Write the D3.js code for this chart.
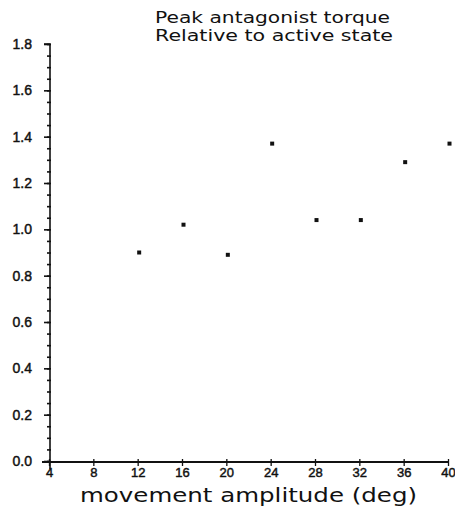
<!DOCTYPE html>
<html>
<head>
<meta charset="utf-8">
<script src="https://cdn.jsdelivr.net/npm/d3@7"></script>
<style>
  html, body { margin: 0; padding: 0; background: #fff; }
  svg { display: block; }
</style>
</head>
<body>
<script>
// Movement amplitude (deg) tested
const amplitudes = [12, 16, 20, 24, 28, 32, 36, 40];
// Peak antagonist torque relative to active state
const relTorque = [0.90, 1.02, 0.89, 1.37, 1.04, 1.04, 1.29, 1.37];
// Axis ticks
const xTicks = [4, 8, 12, 16, 20, 24, 28, 32, 36, 40];
const yTicks = [0.0, 0.2, 0.4, 0.6, 0.8, 1.0, 1.2, 1.4, 1.6, 1.8];
const yMinorTicks = d3.range(0, 1.8001, 0.05);
const titleLines = ["Peak antagonist torque", "Relative to active state"];
const xTitle = "movement amplitude (deg)";

const W = 455, H = 515;
const svg = d3.select("body").append("svg").attr("width", W).attr("height", H);

const x = d3.scaleLinear().domain([4, 40]).range([49, 448]);
const y = d3.scaleLinear().domain([0, 1.8]).range([461, 44]);
const axisX = 50;

const ink = "#111";
const labelFont = "Liberation Sans, Arial, sans-serif";
const titleFont = "DejaVu Sans, sans-serif";

// Y axis: minor ticks
svg.append("g")
  .attr("transform", `translate(${axisX},0)`)
  .call(d3.axisLeft(y).tickValues(yMinorTicks).tickSize(3).tickFormat(""))
  .call(g => g.select(".domain").remove())
  .call(g => g.selectAll("line").attr("stroke", ink).attr("stroke-width", 1.6).attr("x2", -3).attr("x1", 1));

// Y axis: major ticks with labels
svg.append("g")
  .attr("transform", `translate(${axisX},0)`)
  .call(d3.axisLeft(y).tickValues(yTicks).tickSize(6).tickPadding(12).tickFormat(d3.format(".1f")))
  .call(g => g.select(".domain").attr("d", `M-6,${y(1.8)}H0V${y(0) + 8}`).attr("stroke", ink).attr("stroke-width", 1.6).attr("fill", "none"))
  .call(g => g.selectAll(".tick line").attr("stroke", ink).attr("stroke-width", 1.6))
  .call(g => g.selectAll(".tick text")
    .attr("fill", ink).attr("stroke", ink).attr("stroke-width", 0.45)
    .style("font-family", labelFont).style("font-size", "14px"));

// X axis
svg.append("g")
  .attr("transform", `translate(0,${y(0) + 1})`)
  .call(d3.axisBottom(x).tickValues(xTicks).tickSize(4).tickPadding(2).tickFormat(d3.format("d")))
  .call(g => g.select(".domain").attr("d", `M${axisX - 8},0H${x(40)}`).attr("stroke", ink).attr("stroke-width", 1.8))
  .call(g => g.selectAll(".tick line").attr("y1", -3).attr("stroke", ink).attr("stroke-width", 1.3))
  .call(g => g.selectAll(".tick text")
    .attr("fill", ink).attr("stroke", ink).attr("stroke-width", 0.45)
    .style("font-family", labelFont).style("font-size", "13px"));

// Data points: small filled squares
const s = 4;
svg.append("g").selectAll("rect")
  .data(amplitudes.map((a, i) => ({ a, v: relTorque[i] })))
  .join("rect")
  .attr("x", d => x(d.a) - s / 2 + 1.5)
  .attr("y", d => y(d.v) - s / 2)
  .attr("width", s).attr("height", s)
  .attr("fill", ink);

// Title
svg.append("g").selectAll("text")
  .data(titleLines)
  .join("text")
  .attr("x", 155)
  .attr("y", (d, i) => 23 + i * 18)
  .attr("textLength", (d, i) => i === 0 ? 235 : 238)
  .attr("lengthAdjust", "spacingAndGlyphs")
  .style("font-family", titleFont).style("font-size", "15px")
  .attr("fill", ink)
  .text(d => d);

// X axis title
svg.append("text")
  .attr("x", 80).attr("y", 502)
  .attr("textLength", 337)
  .attr("lengthAdjust", "spacingAndGlyphs")
  .style("font-family", titleFont).style("font-size", "20px")
  .attr("fill", ink)
  .text(xTitle);
</script>
</body>
</html>
